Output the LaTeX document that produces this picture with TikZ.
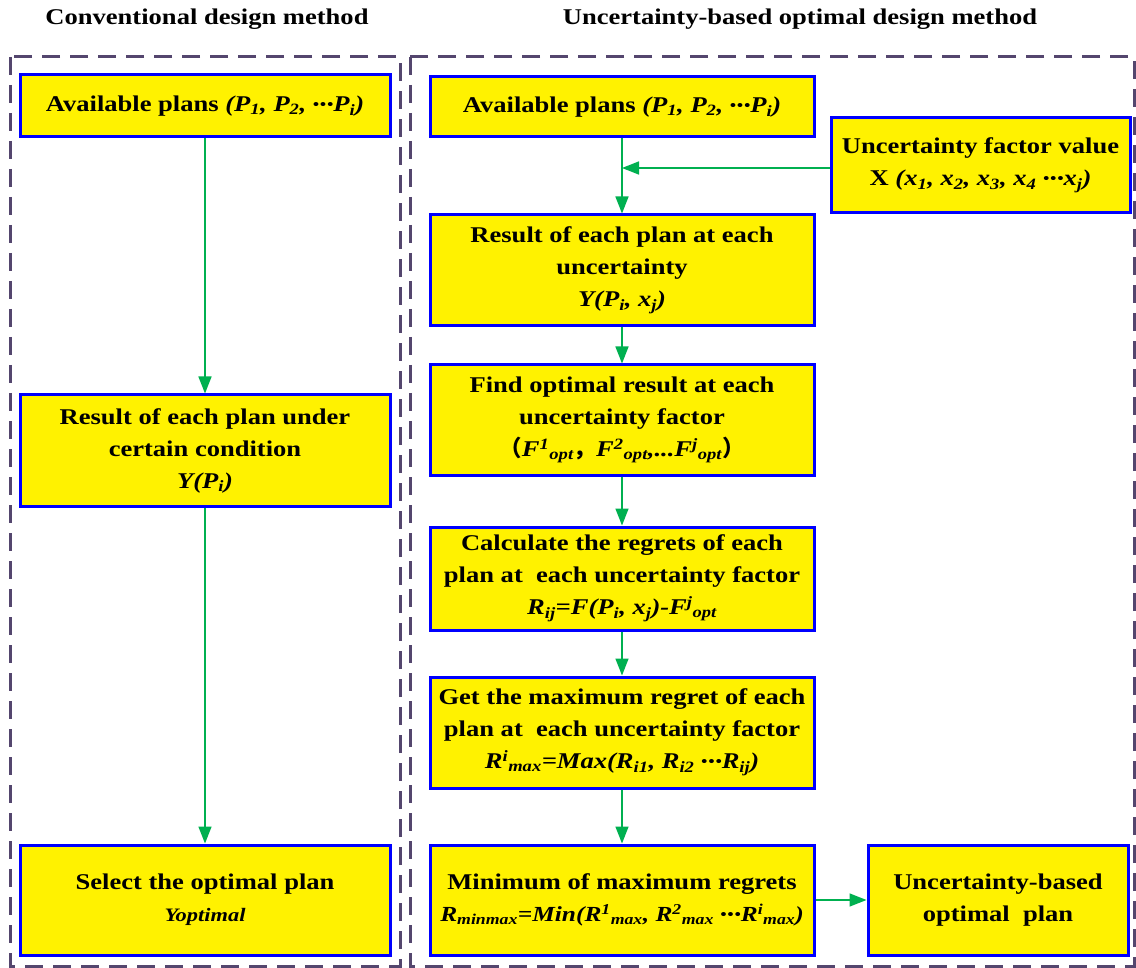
\documentclass[tikz,border=0pt]{standalone}
\usepackage{fontspec}
\setmainfont{Liberation Serif}[FakeStretch=1.18]
\newfontfamily\cjkf{Noto Sans CJK SC}
\usetikzlibrary{arrows.meta}
\newcommand{\idots}{\raisebox{.1em}{\fontsize{15}{15}\selectfont\textbullet\kern1pt\textbullet\kern1pt\textbullet}}
\definecolor{frame}{RGB}{84,70,110}
\definecolor{arrgreen}{RGB}{0,176,80}
\tikzset{
  box/.style={draw=blue, line width=3pt, fill=yellow, align=center, inner sep=0pt,
    font=\bfseries\fontsize{22.5}{32}\selectfont},
  flow/.style={draw=arrgreen, line width=1.5pt, -{Triangle[length=17pt,width=13pt]}},
  region/.style={draw=frame, line width=3pt, dash pattern=on 18pt off 10pt},
  title/.style={font=\bfseries\fontsize{22.5}{26}\selectfont}
}
\begin{document}
\begin{tikzpicture}[x=1pt,y=-1pt]
\useasboundingbox (0,0) rectangle (1136,968);
\draw[region] (10,57) rectangle (400,966);
\draw[region] (410,57) rectangle (1134,966);
\node[title] (t1) at (207,19) {Conventional design method};
\node[title] (t2) at (800,19) {Uncertainty-based optimal design method};
% left column
\node[box, minimum width=370pt, minimum height=62pt] (L1) at (205,106)
  {Available plans \textit{(P\textsubscript{1}, P\textsubscript{2}, \idots P\textsubscript{i})}};
\node[box, minimum width=370pt, minimum height=111pt] (L2) at (205,450.5)
  {Result of each plan under\\certain condition\\\textit{Y(P\textsubscript{i})}};
\node[box, minimum width=370pt, minimum height=110pt] (L3) at (205,900)
  {Select the optimal plan\\{\fontsize{19}{29}\selectfont\textit{Yoptimal}}};
% right column
\node[box, minimum width=384pt, minimum height=60pt] (R1) at (622,107)
  {Available plans \textit{(P\textsubscript{1}, P\textsubscript{2}, \idots P\textsubscript{i})}};
\node[box, minimum width=299pt, minimum height=95pt] (U) at (980.5,165.5)
  {Uncertainty factor value\\X \textit{(x\textsubscript{1}, x\textsubscript{2}, x\textsubscript{3}, x\textsubscript{4} \idots x\textsubscript{j})}};
\node[box, minimum width=384pt, minimum height=111pt] (R2) at (622,270.5)
  {Result of each plan at each\\uncertainty\\\textit{Y(P\textsubscript{i}, x\textsubscript{j})}};
\node[box, minimum width=384pt, minimum height=110pt] (R3) at (622,420)
  {Find optimal result at each\\uncertainty factor\\{\cjkf （}\textit{F\textsuperscript{1}\textsubscript{opt}}{\cjkf ，}\textit{F\textsuperscript{2}\textsubscript{opt},...F\textsuperscript{j}\textsubscript{opt}}{\cjkf ）}};
\node[box, minimum width=384pt, minimum height=103pt] (R4) at (622,578.5)
  {Calculate the regrets of each\\plan at\ \ each uncertainty factor\\\textit{R\textsubscript{ij}=F(P\textsubscript{i}, x\textsubscript{j})-F\textsuperscript{j}\textsubscript{opt}}};
\node[box, minimum width=384pt, minimum height=111pt] (R5) at (622,732.5)
  {Get the maximum regret of each\\plan at\ \ each uncertainty factor\\\textit{R\textsuperscript{i}\textsubscript{max}=Max(R\textsubscript{i1}, R\textsubscript{i2} \idots R\textsubscript{ij})}};
\node[box, minimum width=384pt, minimum height=110pt] (R6) at (622,900)
  {Minimum of maximum regrets\\{\fontsize{21.5}{32}\selectfont\textit{R\textsubscript{minmax}=Min(R\textsuperscript{1}\textsubscript{max}, R\textsuperscript{2}\textsubscript{max} \idots R\textsuperscript{i}\textsubscript{max})}}};
\node[box, minimum width=260pt, minimum height=110pt] (R7) at (998,900)
  {Uncertainty-based\\optimal\ \ plan};
% connectors
\coordinate (J) at (622,168);
\draw[flow] (L1) -- (L2);
\draw[flow] (L2) -- (L3);
\draw[flow] (R1) -- (R2);
\draw[flow] (U.west |- J) -- (J);
\draw[flow] (R2) -- (R3);
\draw[flow] (R3) -- (R4);
\draw[flow] (R4) -- (R5);
\draw[flow] (R5) -- (R6);
\draw[flow] (R6) -- (R7);
\end{tikzpicture}
\end{document}
